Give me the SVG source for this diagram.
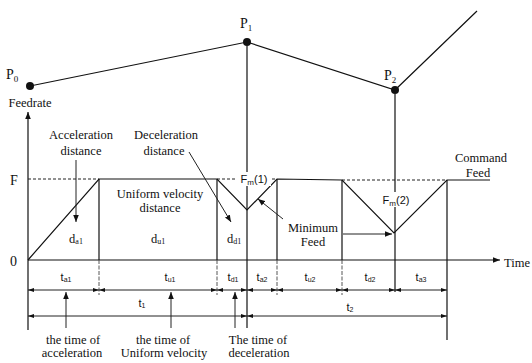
<svg xmlns="http://www.w3.org/2000/svg" width="532" height="363" viewBox="0 0 532 363">
<defs>
<marker id="ah" viewBox="0 0 10 10" refX="10" refY="5" markerWidth="7" markerHeight="7" markerUnits="userSpaceOnUse" orient="auto-start-reverse">
<path d="M0,1 L10,5 L0,9 z" fill="#111"/>
</marker>
<marker id="ahs" viewBox="0 0 10 10" refX="10" refY="5" markerWidth="6" markerHeight="6" markerUnits="userSpaceOnUse" orient="auto-start-reverse">
<path d="M0,1.5 L10,5 L0,8.5 z" fill="#111"/>
</marker>
</defs>
<style>
.ln{stroke:#111;stroke-width:1.2;fill:none}
.th{stroke:#222;stroke-width:1;fill:none}
.dash{stroke:#222;stroke-width:1;fill:none;stroke-dasharray:3 2}
.tk{stroke:#444;stroke-width:0.9;fill:none;stroke-dasharray:4 1.5}
.s{font-family:"Liberation Serif","DejaVu Serif","Times New Roman",serif;font-size:12.5px;fill:#111;text-anchor:middle}
.ss{font-family:"Liberation Sans","DejaVu Sans",Arial,sans-serif;font-size:11px;fill:#111;text-anchor:middle}
.big{font-family:"Liberation Serif","DejaVu Serif","Times New Roman",serif;font-size:14px;fill:#111}
</style>
<rect width="532" height="363" fill="#fff"/>

<g id="path-points">
<polyline class="ln" points="30,86 247,42 395,90 477,11"/>
<circle cx="30" cy="86" r="4" fill="#111"/>
<circle cx="247" cy="42" r="4" fill="#111"/>
<circle cx="395" cy="90" r="4" fill="#111"/>
<text class="big" x="6" y="79">P<tspan dy="3" font-size="9px">0</tspan></text>
<text class="big" x="240" y="28">P<tspan dy="3" font-size="9px">1</tspan></text>
<text class="big" x="384" y="80">P<tspan dy="3" font-size="9px">2</tspan></text>
</g>

<g id="axes">
<line class="ln" x1="28" y1="330" x2="28" y2="112" marker-end="url(#ah)"/>
<line class="ln" x1="28" y1="260" x2="500" y2="260" marker-end="url(#ah)"/>
<text class="s" x="30" y="107" font-size="12px">Feedrate</text>
<text class="s" x="517" y="267" font-size="13px">Time</text>
<text class="big" x="10" y="185">F</text>
<text class="big" x="10" y="266">0</text>
</g>

<g id="profile">
<line class="dash" x1="28" y1="179" x2="99" y2="179"/>
<line class="dash" x1="217" y1="179" x2="277" y2="179"/>
<line class="dash" x1="342" y1="180" x2="447" y2="180"/>
<polyline class="ln" points="28,260 99,179 217,179 247,210 277,179 342,180 394,233 447,180 490,180"/>
<line class="ln" x1="99" y1="179" x2="99" y2="260"/>
<line class="ln" x1="217" y1="179" x2="217" y2="260"/>
<line class="ln" x1="247" y1="46" x2="247" y2="328"/>
<line class="ln" x1="277" y1="179" x2="277" y2="260"/>
<line class="ln" x1="342" y1="180" x2="342" y2="260"/>
<line class="ln" x1="395" y1="94" x2="395" y2="292"/>
<line class="ln" x1="447" y1="180" x2="447" y2="340"/>
</g>

<g id="ticks">
<line class="tk" x1="99" y1="260" x2="99" y2="295"/>
<line class="tk" x1="217" y1="260" x2="217" y2="295"/>
<line class="tk" x1="277" y1="260" x2="277" y2="295"/>
<line class="tk" x1="342" y1="260" x2="342" y2="295"/>
</g>

<g id="labels-fm">
<rect x="237" y="172" width="34" height="14" fill="#fff"/>
<text class="ss" x="254" y="183">F<tspan font-size="8px" dy="2">m</tspan><tspan dy="-2">(1)</tspan></text>
<rect x="381" y="192" width="30" height="15" fill="#fff"/>
<text class="ss" x="396" y="204">F<tspan font-size="8px" dy="2">m</tspan><tspan dy="-2">(2)</tspan></text>
</g>

<g id="labels-dist">
<text class="s" x="81" y="139">Acceleration</text>
<text class="s" x="81" y="155">distance</text>
<text class="s" x="166" y="139">Deceleration</text>
<text class="s" x="164" y="155">distance</text>
<text class="s" x="160" y="198">Uniform velocity</text>
<text class="s" x="160" y="212">distance</text>
<text class="s" x="76" y="243" font-size="13px">d<tspan font-size="8px" dy="1">a1</tspan></text>
<text class="s" x="158" y="243" font-size="13px">d<tspan font-size="8px" dy="1">u1</tspan></text>
<text class="s" x="234" y="243" font-size="13px">d<tspan font-size="8px" dy="1">d1</tspan></text>
<text class="s" x="481" y="162">Command</text>
<text class="s" x="478" y="177">Feed</text>
<text class="s" x="313" y="232">Minimum</text>
<text class="s" x="313" y="246">Feed</text>
</g>

<g id="labels-time">
<text class="ss" x="66" y="281">t<tspan font-size="7px" dy="1">a1</tspan></text>
<text class="ss" x="170" y="281">t<tspan font-size="7px" dy="1">u1</tspan></text>
<text class="ss" x="233" y="281">t<tspan font-size="7px" dy="1">d1</tspan></text>
<text class="ss" x="262" y="281">t<tspan font-size="7px" dy="1">a2</tspan></text>
<text class="ss" x="310" y="281">t<tspan font-size="7px" dy="1">u2</tspan></text>
<text class="ss" x="370" y="281">t<tspan font-size="7px" dy="1">d2</tspan></text>
<text class="ss" x="421" y="281">t<tspan font-size="7px" dy="1">a3</tspan></text>
<text class="ss" x="142" y="307">t<tspan font-size="7px" dy="1">1</tspan></text>
<text class="ss" x="350" y="311">t<tspan font-size="7px" dy="1">2</tspan></text>
<text class="s" x="73" y="344">the time of</text>
<text class="s" x="72" y="357">acceleration</text>
<text class="s" x="163" y="344">the time of</text>
<text class="s" x="164" y="357">Uniform  velocity</text>
<text class="s" x="258" y="344">The time of</text>
<text class="s" x="259" y="357">deceleration</text>
</g>

<g id="connectors">
<line class="th" x1="76" y1="160" x2="76" y2="222" marker-end="url(#ah)"/>
<line class="th" x1="189" y1="152" x2="231" y2="222" marker-end="url(#ah)"/>
<line class="th" x1="283" y1="219" x2="258" y2="199" marker-end="url(#ah)"/>
<line class="th" x1="343" y1="234" x2="392" y2="234" marker-end="url(#ah)"/>
<line class="th" x1="28" y1="290" x2="99" y2="290" marker-start="url(#ahs)" marker-end="url(#ahs)"/>
<line class="th" x1="99" y1="290" x2="217" y2="290" marker-start="url(#ahs)" marker-end="url(#ahs)"/>
<line class="th" x1="217" y1="290" x2="247" y2="290" marker-start="url(#ahs)" marker-end="url(#ahs)"/>
<line class="th" x1="247" y1="290" x2="277" y2="290" marker-start="url(#ahs)" marker-end="url(#ahs)"/>
<line class="th" x1="277" y1="290" x2="342" y2="290" marker-start="url(#ahs)" marker-end="url(#ahs)"/>
<line class="th" x1="342" y1="290" x2="395" y2="290" marker-start="url(#ahs)" marker-end="url(#ahs)"/>
<line class="th" x1="395" y1="290" x2="447" y2="290" marker-start="url(#ahs)" marker-end="url(#ahs)"/>
<line class="th" x1="28" y1="316" x2="247" y2="316" marker-start="url(#ahs)" marker-end="url(#ahs)"/>
<line class="th" x1="247" y1="316" x2="447" y2="316" marker-start="url(#ahs)" marker-end="url(#ahs)"/>
<line class="th" x1="66" y1="328" x2="66" y2="292" marker-end="url(#ah)"/>
<line class="th" x1="171" y1="328" x2="171" y2="292" marker-end="url(#ah)"/>
<line class="th" x1="235" y1="328" x2="235" y2="292" marker-end="url(#ah)"/>
</g>
</svg>
